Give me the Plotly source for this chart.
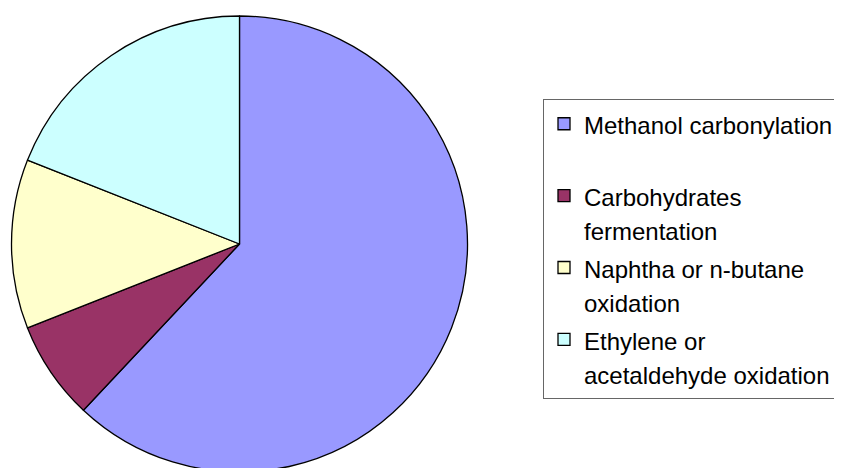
import plotly.graph_objects as go

label_lines = [
    ["Methanol carbonylation", "\u00a0"],
    ["Carbohydrates", "fermentation"],
    ["Naphtha or n-butane", "oxidation"],
    ["Ethylene or", "acetaldehyde oxidation"],
]
values = [62, 7, 12, 19]
colors = ["#9999FF", "#993366", "#FFFFCC", "#CCFFFF"]

W, H = 842, 468
# the page body adds an 8px offset, so positions are in figure coordinates
cx, cy, r = 231.5, 236, 228

# legend line pitch comes from the legend font; the visible glyphs are a bit smaller
labels = ["<br>".join('<span style="font-size:24px">%s</span>' % ln for ln in lines)
          for lines in label_lines]

fig = go.Figure(go.Pie(
    labels=labels,
    values=values,
    sort=False,
    direction="clockwise",
    rotation=0,
    textinfo="none",
    hoverinfo="percent",
    marker=dict(colors=colors, line=dict(color="#000000", width=1.3)),
    domain=dict(x=[(cx - r) / W, (cx + r) / W], y=[1 - (cy + r) / H, 1 - (cy - r) / H]),
))

fig.update_layout(
    width=W, height=H,
    margin=dict(l=0, r=0, t=0, b=0, autoexpand=False),
    paper_bgcolor="white",
    plot_bgcolor="white",
    font=dict(family="Liberation Sans, Arial, sans-serif", color="#000000"),
    legend=dict(
        x=535 / W, xanchor="left",
        y=1 - 241 / H, yanchor="middle",
        font=dict(size=26.5, family="Liberation Sans, Arial, sans-serif", color="#000000"),
        bordercolor="#666666", borderwidth=1, bgcolor="white",
        valign="top",
        traceorder="normal",
    ),
    showlegend=True,
)

fig.write_html("out.html")
